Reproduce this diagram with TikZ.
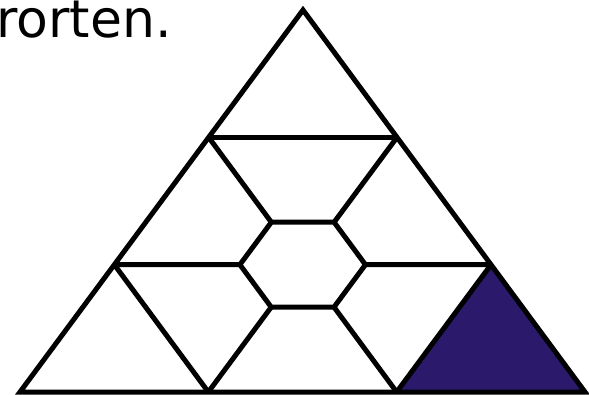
\documentclass[tikz,border=0pt]{standalone}
\usepackage{fontspec}
\setmainfont{DejaVu Sans}
\usetikzlibrary{calc}
\definecolor{indigo}{RGB}{43,25,108}
\begin{document}
\begin{tikzpicture}[x=1pt,y=-1pt,
  edge/.style={line width=5pt,line join=miter,line cap=butt},
  label/.style={inner sep=0pt,font=\fontsize{52}{60}\selectfont}]
\useasboundingbox (0,0) rectangle (589,395);
\coordinate (A) at (303,10);
\coordinate (L) at (20,392);
\coordinate (R) at (585,392);
\coordinate (L1) at ($(L)!1/3!(A)$);
\coordinate (L2) at ($(L)!2/3!(A)$);
\coordinate (R1) at ($(R)!1/3!(A)$);
\coordinate (R2) at ($(R)!2/3!(A)$);
\coordinate (B1) at ($(L)!1/3!(R)$);
\coordinate (B2) at ($(L)!2/3!(R)$);
\coordinate (C) at ($(L1)!1/2!(R1)$);
\coordinate (HL) at ($(C)!1/3!(L1)$);
\coordinate (HR) at ($(C)!1/3!(R1)$);
\coordinate (HTL) at ($(C)!1/3!(L2)$);
\coordinate (HTR) at ($(C)!1/3!(R2)$);
\coordinate (HBL) at ($(C)!1/3!(B1)$);
\coordinate (HBR) at ($(C)!1/3!(B2)$);
\node[label,anchor=base east] (txt) at (172,38) {rorten.};
\fill[indigo] (R1) -- (B2) -- (R) -- cycle;
\draw[edge] (L1) -- (B1);
\draw[edge] (R1) -- (B2);
\draw[edge] (L2) -- (R2);
\draw[edge] (L1) -- (HL);
\draw[edge] (HR) -- (R1);
\draw[edge] (L2) -- (HTL);
\draw[edge] (R2) -- (HTR);
\draw[edge] (B1) -- (HBL);
\draw[edge] (B2) -- (HBR);
\draw[edge] (HL) -- (HTL) -- (HTR) -- (HR) -- (HBR) -- (HBL) -- cycle;
\draw[edge] (L) -- (A) -- (R) -- cycle;
\end{tikzpicture}
\end{document}
